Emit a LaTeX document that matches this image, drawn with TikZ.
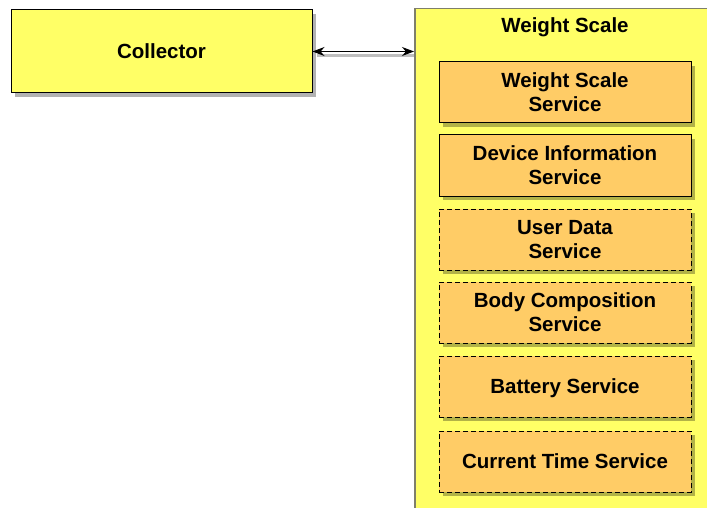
\documentclass[tikz,border=0pt]{standalone}
\usepackage{fontspec}
\setmainfont{Liberation Sans}
\definecolor{boxyellow}{HTML}{FFFF66}
\definecolor{svcorange}{HTML}{FFCC66}
\definecolor{edgegray}{HTML}{7F7F6A}
\usetikzlibrary{shadows,arrows.meta}
\tikzset{
  shadowed/.style={drop shadow={shadow xshift=4pt,shadow yshift=-4pt,fill=black,opacity=0.3}},
  block/.style={draw=black, line width=1pt, fill=boxyellow, shadowed, minimum width=301pt, minimum height=83pt, font=\bfseries\fontsize{20.5}{24}\selectfont},
  svc/.style={draw=black, line width=1pt, fill=svcorange, shadowed, minimum width=252pt, minimum height=61pt, align=center, font=\bfseries\fontsize{20.5}{24}\selectfont},
  optsvc/.style={svc, dash pattern=on 5pt off 3pt}
}
\begin{document}
\begin{tikzpicture}[x=1pt, y=-1pt, >={Stealth[length=12pt,width=9pt]}]
\useasboundingbox (0,0) rectangle (707,508);
\clip (0,0) rectangle (707,508);
% container
\node (ws) [draw=edgegray, line width=1.5pt, fill=boxyellow, minimum width=310pt, minimum height=520pt, anchor=north west, inner sep=0pt] at (414,8) {};
\node (wstitle) [font=\bfseries\fontsize{20.5}{24}\selectfont] at (565,27) {Weight Scale};
\node (collector) [block] at (161.5,51.5) {Collector};
% services
\node (wss) [svc] at (565,92.5) {Weight Scale\\Service};
\node (dis) [svc] at (565,165.5) {Device Information\\Service};
\node (uds) [optsvc] at (565,239.5) {User Data\\Service};
\node (bcs) [optsvc] at (565,312.5) {Body Composition\\Service};
\node (bas) [optsvc, text depth=0pt] at (565,386.5) {Battery Service};
\node (cts) [optsvc, text depth=0pt] at (565,461.5) {Current Time Service};
% link
\draw [black!25, line width=3pt] ([xshift=4pt,yshift=-4pt]collector.east) -- ([yshift=-4pt]collector.east -| ws.west);
\draw [<->, line width=1pt] (collector.east) -- (collector.east -| ws.west);
\end{tikzpicture}
\end{document}
